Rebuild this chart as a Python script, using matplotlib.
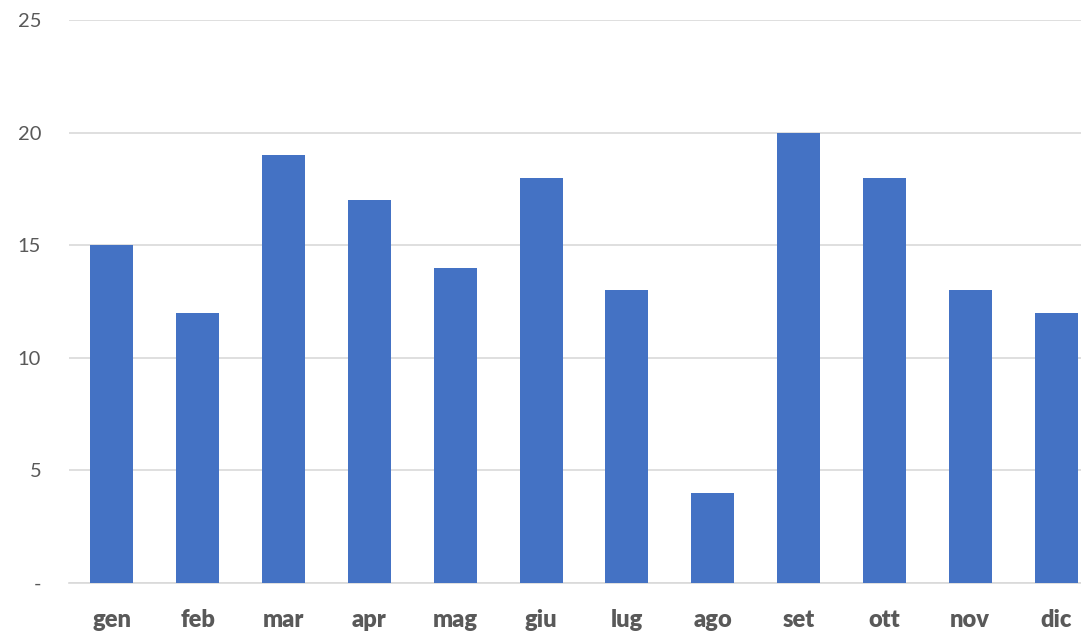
import matplotlib
matplotlib.use("Agg")
import matplotlib.pyplot as plt
import numpy as np

months = ["gen", "feb", "mar", "apr", "mag", "giu", "lug", "ago", "set", "ott", "nov", "dic"]
values = [15, 12, 19, 17, 14, 18, 13, 4, 20, 18, 13, 12]
yticks = [0, 5, 10, 15, 20, 25]
ytick_labels = ["-", "5", "10", "15", "20", "25"]

plt.rcParams['font.family'] = ['Lato', 'DejaVu Sans']

W, H = 1081, 633
fig = plt.figure(figsize=(W / 100, H / 100), dpi=100)
left, right, top, bottom = 69, 1099, 20, 583
ax = fig.add_axes([left / W, 1 - bottom / H, (right - left) / W, (bottom - top) / H])

x = np.arange(len(months))
ax.bar(x, values, width=0.5, color="#4472C4", zorder=3)
ax.set_xlim(-0.5, len(months) - 0.5)
ax.set_ylim(0, 25)
ax.set_yticks(yticks)
ax.set_yticklabels(ytick_labels, fontsize=14.5, color="#595959")
ax.set_xticks(x)
ax.set_xticklabels(months, fontsize=17, fontweight="heavy", color="#595959")
ax.yaxis.grid(True, color="#D9D9D9", linewidth=1.2, zorder=0)
for s in ["top", "right", "left"]:
    ax.spines[s].set_visible(False)
ax.spines["bottom"].set_color("#D9D9D9")
ax.spines["bottom"].set_linewidth(1.2)
ax.tick_params(axis="both", length=0)
ax.tick_params(axis="y", pad=20)
ax.tick_params(axis="x", pad=19)

fig.savefig("out.png", dpi=100)
